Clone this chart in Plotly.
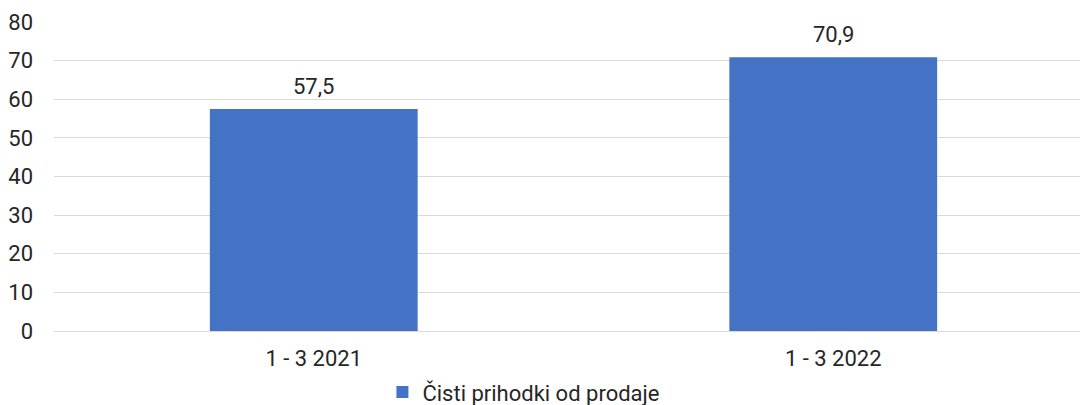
import plotly.graph_objects as go

categories = ["1 - 3 2021", "1 - 3 2022"]
values = [57.5, 70.9]
series_name = "Čisti prihodki od prodaje"
y_ticks = [0, 10, 20, 30, 40, 50, 60, 70, 80]

fig = go.Figure()

fig.add_trace(go.Bar(
    x=categories, y=values,
    name=series_name,
    marker=dict(color="#4472c4", line=dict(width=0)),
    width=0.4,
    hoverinfo="x+y",
    showlegend=True,
))

# value labels above the bars (a bit more gap than plotly's outside text)
for cat, val in zip(categories, values):
    fig.add_annotation(
        x=cat, y=val, text=f"{val:.1f}".replace(".", ","),
        showarrow=False, yanchor="bottom", yshift=8,
        font=dict(size=22, color="#262626"),
    )

fig.update_layout(
    width=1080, height=405,
    plot_bgcolor="white", paper_bgcolor="white",
    separators=",.",
    font=dict(family="Roboto", size=22, color="#262626"),
    margin=dict(l=54, r=0, t=22, b=74, autoexpand=False),
    bargap=0.6,
    showlegend=True,
    legend=dict(orientation="h", x=0.458, xanchor="center", y=-0.13, yanchor="top",
                font=dict(size=22, color="#262626"), itemwidth=30),
    xaxis=dict(range=[-0.5, 1.475], showgrid=False, showline=False, ticks="",
               automargin=False, ticklabelstandoff=12,
               tickfont=dict(size=22, color="#262626")),
    yaxis=dict(range=[0, 80], tickvals=y_ticks, showgrid=True, gridcolor="#d9d9d9",
               gridwidth=1, zeroline=True, zerolinecolor="#d9d9d9", zerolinewidth=1,
               ticks="", ticklabelstandoff=20, automargin=False,
               tickfont=dict(size=22, color="#262626")),
)

fig.write_html("out.html", config={"displayModeBar": False},
               post_script="document.body.style.margin='0';document.body.style.overflow='hidden';")
